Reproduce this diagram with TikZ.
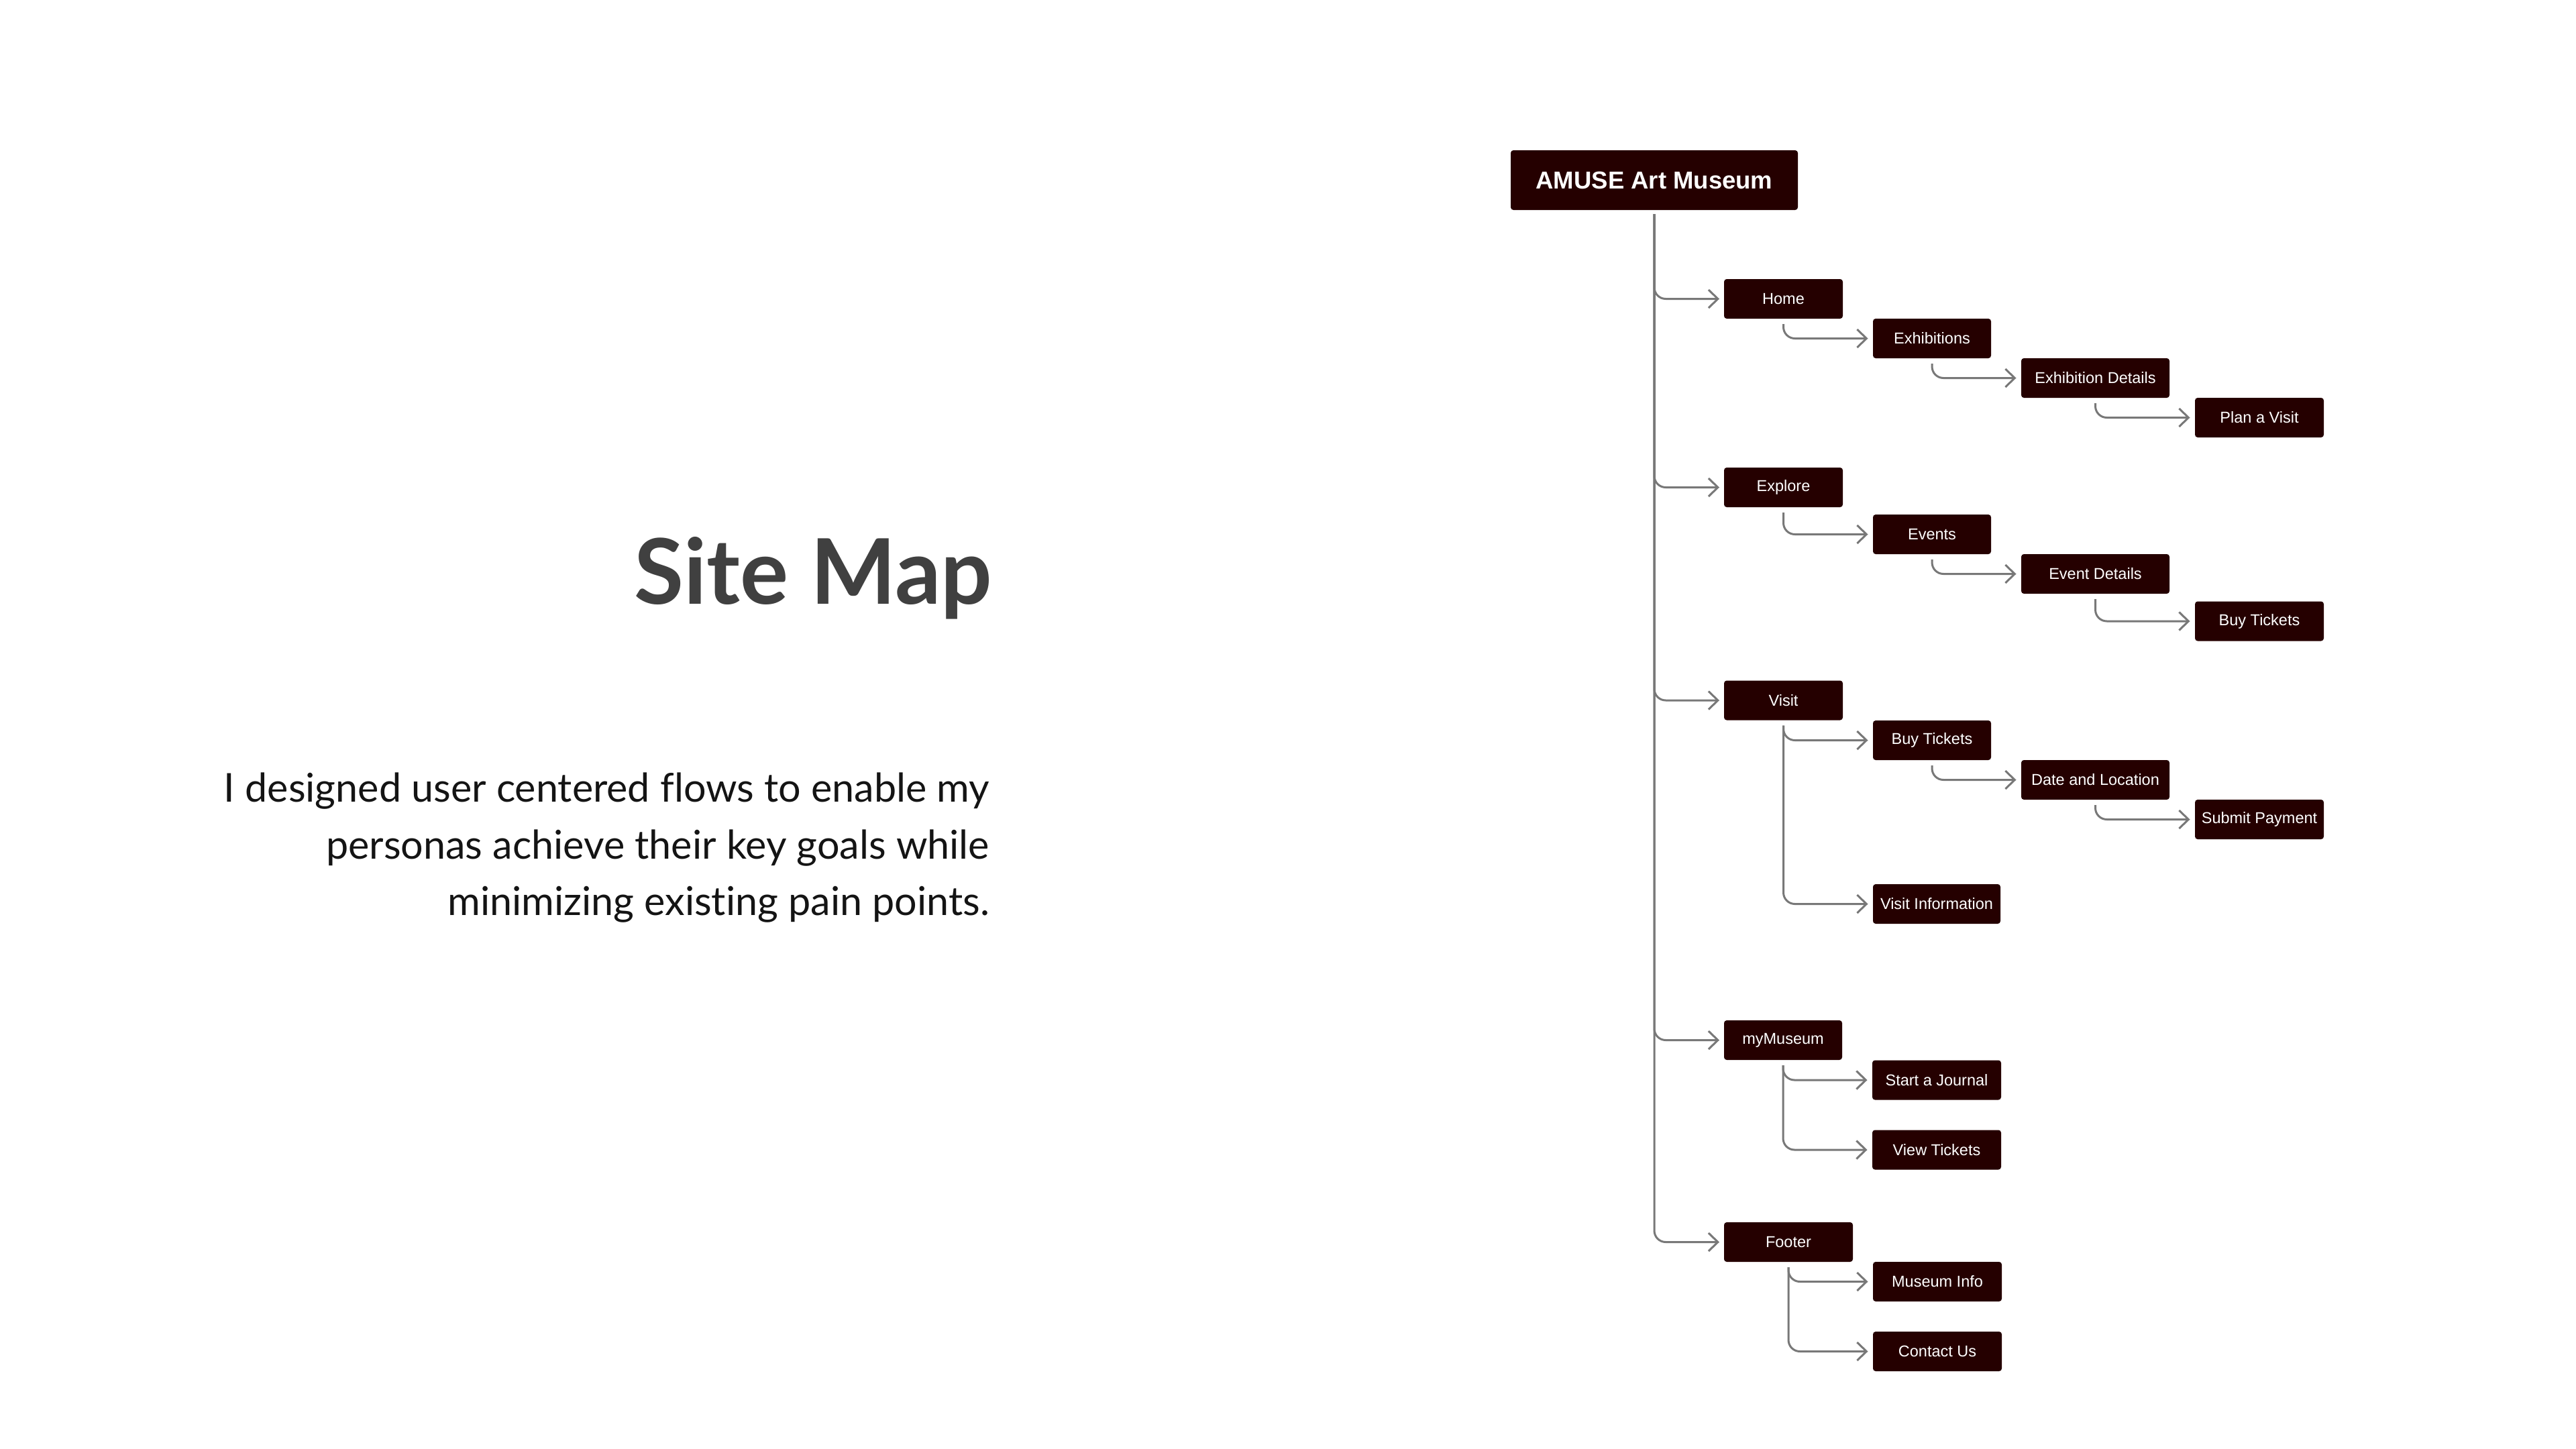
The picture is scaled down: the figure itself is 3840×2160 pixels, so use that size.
\documentclass[tikz,border=0pt]{standalone}
\usepackage{fontspec}
\usetikzlibrary{arrows.meta}
\newfontfamily\lblfont{Liberation Sans}
\newfontfamily\latofont[Ligatures=NoCommon]{Lato}
\definecolor{boxc}{RGB}{37,0,0}
\definecolor{linec}{RGB}{120,120,120}
\definecolor{titlec}{RGB}{64,64,64}
\definecolor{bodyc}{RGB}{20,20,20}
\begin{document}
\begin{tikzpicture}[x=0.2pt,y=-0.2pt,
  pg/.style={fill=boxc, text=white, rounded corners=0.8pt, minimum height=11.8pt, inner sep=0pt, font=\lblfont\fontsize{4.7}{5}\selectfont},
  conn/.style={draw=linec, line width=0.6pt, rounded corners=3.4pt, -{Straight Barb[length=2.8pt,width=5.4pt,line width=0.6pt]}},
  ttl/.style={font=\latofont\bfseries\fontsize{27}{30}\selectfont, text=titlec, anchor=base east, inner sep=0pt},
  bdy/.style={font=\latofont\fontsize{11.85}{17}\selectfont, text=bodyc, anchor=base east, inner sep=0pt}
]
\useasboundingbox[fill=white] (0,0) rectangle (3840,2160);

% left texts
\node[ttl] (title) at (1480,900) {Site Map};
\node[bdy] (b1) at (1476,1195) {I designed user centered flows to enable my};
\node[bdy] (b2) at (1476,1280) {personas achieve their key goals while};
\node[bdy] (b3) at (1476,1364) {minimizing existing pain points.};

% nodes
\node[pg, minimum width=85.6pt, minimum height=17.8pt, font=\lblfont\bfseries\fontsize{7.3}{8}\selectfont] (root) at (2466,268.5) {AMUSE Art Museum};

\node[pg, minimum width=35.4pt] (home) at (2658.5,445.5) {Home};
\node[pg, minimum width=35.2pt] (exhib) at (2880,504.5) {Exhibitions};
\node[pg, minimum width=44.2pt] (exdet) at (3123.5,563.5) {Exhibition Details};
\node[pg, minimum width=38.4pt] (plan) at (3368,622.5) {Plan a Visit};

\node[pg, minimum width=35.4pt] (explore) at (2658.5,726.5) {Explore};
\node[pg, minimum width=35.2pt] (events) at (2880,796.5) {Events};
\node[pg, minimum width=44.2pt] (evdet) at (3123.5,855.5) {Event Details};
\node[pg, minimum width=38.4pt] (buya) at (3368,926) {Buy Tickets};

\node[pg, minimum width=35.4pt] (visit) at (2658.5,1044) {Visit};
\node[pg, minimum width=35.2pt] (buyb) at (2880,1103.5) {Buy Tickets};
\node[pg, minimum width=44.2pt] (dateloc) at (3123.5,1162.5) {Date and Location};
\node[pg, minimum width=38.4pt] (submit) at (3368,1221.5) {Submit Payment};
\node[pg, minimum width=38pt] (visinfo) at (2887,1347.5) {Visit Information};

\node[pg, minimum width=35.2pt] (mymus) at (2658,1550.5) {myMuseum};
\node[pg, minimum width=38.4pt] (journal) at (2887,1610) {Start a Journal};
\node[pg, minimum width=38.4pt] (viewt) at (2887,1714) {View Tickets};

\node[pg, minimum width=38.4pt] (footer) at (2666,1851.5) {Footer};
\node[pg, minimum width=38.4pt] (musinfo) at (2888,1910.5) {Museum Info};
\node[pg, minimum width=38.4pt] (contact) at (2888,2014.5) {Contact Us};

% trunk connectors
\foreach \c in {home,explore,visit,mymus,footer}
  \draw[conn] ([yshift=-1pt]root.south) |- ([xshift=-1.2pt]\c.west);

% chains
\draw[conn] ([yshift=-1.4pt]home.south) |- ([xshift=-1.3pt]exhib.west);
\draw[conn] ([yshift=-1.4pt]exhib.south) |- ([xshift=-1.3pt]exdet.west);
\draw[conn] ([yshift=-1.4pt]exdet.south) |- ([xshift=-1.3pt]plan.west);

\draw[conn] ([yshift=-1.4pt]explore.south) |- ([xshift=-1.3pt]events.west);
\draw[conn] ([yshift=-1.4pt]events.south) |- ([xshift=-1.3pt]evdet.west);
\draw[conn] ([yshift=-1.4pt]evdet.south) |- ([xshift=-1.3pt]buya.west);

\draw[conn] ([yshift=-1.4pt]visit.south) |- ([xshift=-1.3pt]buyb.west);
\draw[conn] ([yshift=-1.4pt]buyb.south) |- ([xshift=-1.3pt]dateloc.west);
\draw[conn] ([yshift=-1.4pt]dateloc.south) |- ([xshift=-1.3pt]submit.west);
\draw[conn] ([yshift=-1.4pt]visit.south) |- ([xshift=-1.3pt]visinfo.west);

\draw[conn] ([yshift=-1.4pt]mymus.south) |- ([xshift=-1.3pt]journal.west);
\draw[conn] ([yshift=-1.4pt]mymus.south) |- ([xshift=-1.3pt]viewt.west);

\draw[conn] ([yshift=-1.4pt]footer.south) |- ([xshift=-1.3pt]musinfo.west);
\draw[conn] ([yshift=-1.4pt]footer.south) |- ([xshift=-1.3pt]contact.west);
\end{tikzpicture}
\end{document}
